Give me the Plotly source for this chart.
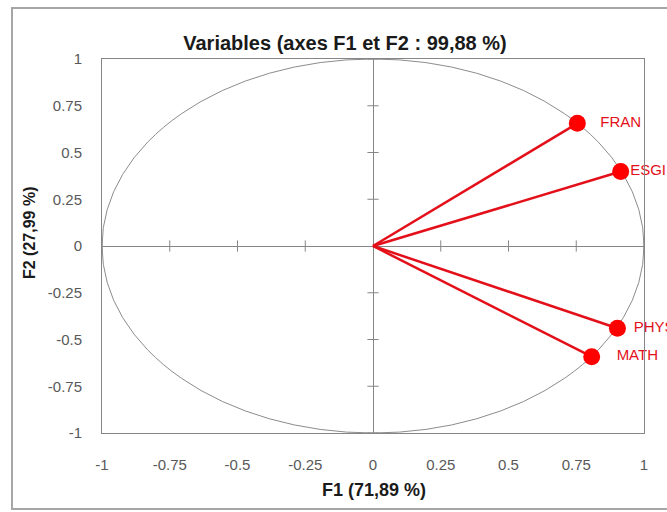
import plotly.graph_objects as go

# Data
variables = ["FRAN", "ESGI", "PHYS", "MATH"]
f1 = [0.754, 0.914, 0.902, 0.807]
f2 = [0.656, 0.398, -0.440, -0.592]
tick_vals = [-1, -0.75, -0.5, -0.25, 0, 0.25, 0.5, 0.75, 1]
tick_text = ["-1", "-0.75", "-0.5", "-0.25", "0", "0.25", "0.5", "0.75", "1"]
label_offsets = [0.085, 0.035, 0.06, 0.092]

RED = "#E3101A"
GRAY = "#868686"
FONT = "Liberation Sans"

fig = go.Figure()

# axis cross ticks on the zero lines
inner = [t for t in tick_vals if t != 0]
fig.add_trace(go.Scatter(x=inner, y=[0] * len(inner), mode="markers",
                         marker=dict(symbol="line-ns-open", size=8, color=GRAY,
                                     line=dict(color=GRAY, width=1)),
                         hoverinfo="skip", showlegend=False, cliponaxis=False))
fig.add_trace(go.Scatter(x=[0] * len(inner), y=inner, mode="markers",
                         marker=dict(symbol="line-ew-open", size=8, color=GRAY,
                                     line=dict(color=GRAY, width=1)),
                         hoverinfo="skip", showlegend=False, cliponaxis=False))

# labels (drawn before markers so markers sit on top)
fig.add_trace(go.Scatter(x=[a + o for a, o in zip(f1, label_offsets)], y=f2, mode="text",
                         text=variables, textposition="middle right",
                         textfont=dict(color=RED, size=15, family=FONT),
                         showlegend=False, cliponaxis=False, hoverinfo="skip"))

# vectors from origin
for x, y in zip(f1, f2):
    fig.add_trace(go.Scatter(x=[0, x], y=[0, y], mode="lines",
                             line=dict(color=RED, width=2.5),
                             showlegend=False, hoverinfo="skip"))

fig.add_trace(go.Scatter(x=f1, y=f2, mode="markers",
                         marker=dict(color="#FF0000", size=17),
                         showlegend=False, cliponaxis=False, text=variables))

# unit circle
fig.add_shape(type="circle", xref="x", yref="y", x0=-1, y0=-1, x1=1, y1=1,
              line=dict(color="#8c8c8c", width=1), layer="below")

# chart area border
fig.add_shape(type="rect", xref="paper", yref="paper",
              x0=(12 - 102) / 542, x1=(672 - 102) / 542,
              y0=(433 - 509) / 374, y1=(433 - 8) / 374,
              line=dict(color="#a6a6a6", width=2))

axis_common = dict(range=[-1, 1], tickvals=tick_vals, ticktext=tick_text,
                   showgrid=False, zeroline=True, zerolinecolor=GRAY, zerolinewidth=1,
                   showline=True, linecolor=GRAY, linewidth=1, mirror=True, ticks="",
                   tickfont=dict(family=FONT, size=15, color="#595959"), fixedrange=True)

fig.update_xaxes(**axis_common, ticklabelstandoff=18)
fig.update_yaxes(**axis_common, ticklabelstandoff=16)

fig.update_layout(
    width=667, height=512,
    margin=dict(l=102, r=23, t=59, b=79),
    paper_bgcolor="white", plot_bgcolor="white",
    title=dict(text="<b>Variables (axes F1 et F2 : 99,88 %)</b>",
               x=(345 - 102) / 542, xref="paper", xanchor="center",
               y=1 - 43 / 512, yref="container", yanchor="middle",
               font=dict(family=FONT, size=20, color="#1a1a1a")),
    annotations=[
        dict(text="<b>F1 (71,89 %)</b>", xref="paper", yref="paper",
             x=(374 - 102) / 542, y=-(490 - 433) / 374, xanchor="center", yanchor="middle",
             showarrow=False, font=dict(family=FONT, size=18, color="#1a1a1a")),
        dict(text="<b>F2 (27,99 %)</b>", xref="paper", yref="paper",
             x=(29 - 102) / 542, y=(433 - 233) / 374, xanchor="center", yanchor="middle",
             textangle=-90, showarrow=False, font=dict(family=FONT, size=16, color="#1a1a1a")),
    ],
)

fig.write_html("out.html", config={"displayModeBar": False},
               post_script="document.body.style.margin='0px';")
